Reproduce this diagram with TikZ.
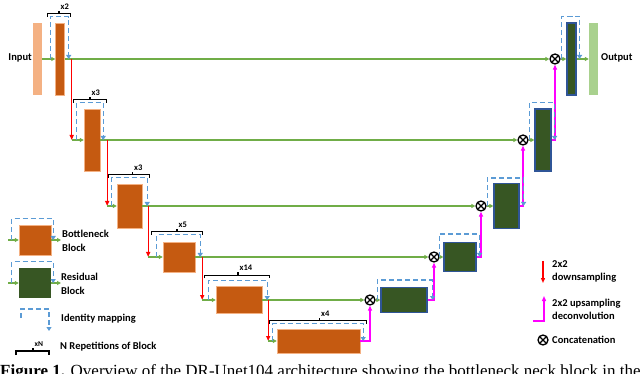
\documentclass[tikz,border=0pt]{standalone}
\usepackage{fontspec}
\setmainfont{Carlito}
\newfontfamily\capfont{Liberation Serif}
\usepackage{tikz}
\usetikzlibrary{arrows.meta,positioning,calc}
\definecolor{encorange}{HTML}{C55A11}
\definecolor{inpeach}{HTML}{F4B183}
\definecolor{outgreen}{HTML}{A9D18E}
\definecolor{resgreen}{HTML}{375623}
\definecolor{resborder}{HTML}{2F5597}
\definecolor{linegreen}{HTML}{70AD47}
\definecolor{skipblue}{HTML}{5B9BD5}
\definecolor{downred}{HTML}{FF0000}
\definecolor{upmagenta}{HTML}{FF00FF}

\begin{document}
\begin{tikzpicture}[
    x=1pt, y=-1pt,
    font=\fontsize{10.5}{13.5}\selectfont\bfseries,
    encblock/.style={rectangle, fill=encorange, draw=inpeach, line width=0.4pt, inner sep=0pt},
    decblock/.style={rectangle, fill=resgreen, draw=resborder, line width=1.2pt, inner sep=0pt},
    bar/.style={rectangle, inner sep=0pt, minimum width=9pt, minimum height=72pt},
    concat/.style={circle, draw=black, fill=white, line width=1.3pt, minimum size=10pt, inner sep=0pt,
        path picture={\draw[line width=1.3pt]
            (path picture bounding box.north west) -- (path picture bounding box.south east)
            (path picture bounding box.north east) -- (path picture bounding box.south west);}},
    main/.style={-{Triangle[length=4pt,width=4pt]}, line width=1.1pt, color=linegreen},
    down/.style={-{Triangle[length=5pt,width=4pt]}, line width=1.3pt, color=downred},
    up/.style={-{Triangle[length=5pt,width=4pt]}, line width=1.6pt, color=upmagenta},
    skip/.style={-{Triangle[length=4pt,width=5pt]}, line width=1.3pt, color=skipblue,
        dash pattern=on 5pt off 3pt},
    brace/.style={line width=1.2pt, color=black},
    reptext/.style={font=\fontsize{8.5}{9}\selectfont\bfseries, inner sep=1pt},
    legtext/.style={align=left, inner sep=0pt},
]
\useasboundingbox (0,0) rectangle (640,374);
\clip (0,0) rectangle (640,374);

% Ein- und Ausgang
\node[bar, fill=inpeach] (in) at (37.5,59) {};
\node[anchor=east, inner sep=1pt] (intext) at (33,58) {Input};
\node[bar, fill=outgreen] (out) at (593.5,59) {};
\node[anchor=west, inner sep=1pt] (outtext) at (600,58) {Output};

% Encoder
\node[encblock, minimum width=9pt, minimum height=72pt] (e1) at (60,59) {};
\node[encblock, minimum width=16pt, minimum height=62pt] (e2) at (92,140) {};
\node[encblock, minimum width=25pt, minimum height=44pt] (e3) at (129.5,206) {};
\node[encblock, minimum width=32pt, minimum height=30pt] (e4) at (179,257) {};
\node[encblock, minimum width=46pt, minimum height=27pt] (e5) at (239,300) {};
\node[encblock, minimum width=83pt, minimum height=24pt] (e6) at (318.5,341) {};

% Decoder
\node[decblock, minimum width=46pt, minimum height=25pt] (d5) at (404,300) {};
\node[decblock, minimum width=32pt, minimum height=29pt] (d4) at (460,257) {};
\node[decblock, minimum width=25pt, minimum height=45pt] (d3) at (506.5,206) {};
\node[decblock, minimum width=16pt, minimum height=62pt] (d2) at (543,140) {};
\node[decblock, minimum width=9pt, minimum height=72pt] (d1) at (571.5,59) {};

% Konkatenation
\node[concat] (c1) at (555,59) {};
\node[concat] (c2) at (523,140) {};
\node[concat] (c3) at (481,206) {};
\node[concat] (c4) at (434,257) {};
\node[concat] (c5) at (370,300) {};

% Skip-Verbindungen
\draw[main] (in.east) -- (e1.west);
\draw[main] (e1.east) -- (c1.west);
\draw[main] (e2.east) -- (c2.west);
\draw[main] (e3.east) -- (c3.west);
\draw[main] (e4.east) -- (c4.west);
\draw[main] (e5.east) -- (c5.west);
\draw[main] (c1.east) -- (d1.west);
\draw[main] (c2.east) -- (d2.west);
\draw[main] (c3.east) -- (d3.west);
\draw[main] (c4.east) -- (d4.west);
\draw[main] (c5.east) -- (d5.west);
\draw[main] (d1.east) -- (out.west);

% Downsampling
\coordinate (s1) at ($(e1.east)+(7,0)$);
\coordinate (s2) at ($(e2.east)+(7,0)$);
\coordinate (s3) at ($(e3.east)+(6,0)$);
\coordinate (s4) at ($(e4.east)+(7,0)$);
\coordinate (s5) at ($(e5.east)+(6,0)$);
\draw[down] (s1) -- (s1 |- e2.west);
\draw[main] (s1 |- e2.west) -- (e2.west);
\draw[down] (s2) -- (s2 |- e3.west);
\draw[main] (s2 |- e3.west) -- (e3.west);
\draw[down] (s3) -- (s3 |- e4.west);
\draw[main] (s3 |- e4.west) -- (e4.west);
\draw[down] (s4) -- (s4 |- e5.west);
\draw[main] (s4 |- e5.west) -- (e5.west);
\draw[down] (s5) -- (s5 |- e6.west);
\draw[main] (s5 |- e6.west) -- (e6.west);

% Upsampling
\draw[up] (e6.east) -| (c5.south);
\draw[up] (d5.east) -| (c4.south);
\draw[up] (d4.east) -| (c3.south);
\draw[up] (d3.east) -| (c2.south);
\draw[up] (d2.east) -| (c1.south);

% Identity mapping
\draw[skip] ([xshift=-5pt]e1.west) |- ([yshift=6pt]e1.north) -| ([xshift=4pt]e1.east);
\draw[skip] ([xshift=-7pt]e2.west) |- ([yshift=6pt]e2.north) -| ([xshift=3pt]e2.east);
\draw[skip] ([xshift=-5pt]e3.west) |- ([yshift=6pt]e3.north) -| ([xshift=5pt]e3.east);
\draw[skip] ([xshift=-6pt]e4.west) |- ([yshift=7pt]e4.north) -| ([xshift=5pt]e4.east);
\draw[skip] ([xshift=-7pt]e5.west) |- ([yshift=6pt]e5.north) -| ([xshift=5pt]e5.east);
\draw[skip] ([xshift=-4pt]e6.west) |- ([yshift=5pt]e6.north) -| ([xshift=3pt]e6.east);
\draw[skip] ([xshift=-3pt]d5.west) |- ([yshift=7pt]d5.north) -| ([xshift=5pt]d5.east);
\draw[skip] ([xshift=-4pt]d4.west) |- ([yshift=8pt]d4.north) -| ([xshift=3pt]d4.east);
\draw[skip] ([xshift=-6pt]d3.west) |- ([yshift=5pt]d3.north) -| ([xshift=4pt]d3.east);
\draw[skip] ([xshift=-5pt]d2.west) |- ([yshift=6pt]d2.north) -| ([xshift=3pt]d2.east);
\draw[skip] ([xshift=-5pt]d1.west) |- ([yshift=6pt]d1.north) -| ([xshift=3pt]d1.east);

% Wiederholungen
\draw[brace] ([xshift=-8pt,yshift=6pt]e1.north west) |- ([xshift=-1pt,yshift=9pt]e1.north) -| ([xshift=6pt,yshift=6pt]e1.north east);
\draw[brace] ([xshift=-1pt,yshift=9pt]e1.north) -- ([xshift=-1pt,yshift=12pt]e1.north) node[reptext, anchor=south west] (r1) {x2};
\draw[brace] ([xshift=-10pt,yshift=6pt]e2.north west) |- ([xshift=-2pt,yshift=9pt]e2.north) -| ([xshift=6pt,yshift=6pt]e2.north east);
\draw[brace] ([xshift=-2pt,yshift=9pt]e2.north) -- ([xshift=-2pt,yshift=12pt]e2.north) node[reptext, anchor=south west] (r2) {x3};
\draw[brace] ([xshift=-8pt,yshift=6pt]e3.north west) |- ([xshift=3pt,yshift=9pt]e3.north) -| ([xshift=7pt,yshift=6pt]e3.north east);
\draw[brace] ([xshift=3pt,yshift=9pt]e3.north) -- ([xshift=3pt,yshift=12pt]e3.north) node[reptext, anchor=south west] (r3) {x3};
\draw[brace] ([xshift=-11pt,yshift=7pt]e4.north west) |- ([xshift=-2pt,yshift=10pt]e4.north) -| ([xshift=7pt,yshift=7pt]e4.north east);
\draw[brace] ([xshift=-2pt,yshift=10pt]e4.north) -- ([xshift=-2pt,yshift=13pt]e4.north) node[reptext, anchor=south west] (r4) {x5};
\draw[brace] ([xshift=-11pt,yshift=8pt]e5.north west) |- ([xshift=-1pt,yshift=11pt]e5.north) -| ([xshift=7pt,yshift=8pt]e5.north east);
\draw[brace] ([xshift=-1pt,yshift=11pt]e5.north) -- ([xshift=-1pt,yshift=14pt]e5.north) node[reptext, anchor=south west] (r5) {x14};
\draw[brace] ([xshift=-7pt,yshift=5pt]e6.north west) |- ([xshift=1pt,yshift=8pt]e6.north) -| ([xshift=6pt,yshift=5pt]e6.north east);
\draw[brace] ([xshift=1pt,yshift=8pt]e6.north) -- ([xshift=1pt,yshift=11pt]e6.north) node[reptext, anchor=south west] (r6) {x4};

% Legende links
\node[encblock, minimum width=32pt, minimum height=30pt] (lb) at (35,240) {};
\coordinate (lbin) at (8,240);
\coordinate (lbout) at (61,240);
\draw[main] (lbin) -- (lb.west);
\draw[main] (lb.east) -- (lbout);
\draw[skip] ([xshift=-7pt]lb.west) |- ([yshift=6pt]lb.north) -| ([xshift=2pt]lb.east);
\node[legtext, anchor=west] (lbtext) at (62,241) {Bottleneck\\Block};

\node[rectangle, fill=resgreen, inner sep=0pt, minimum width=32pt, minimum height=30pt] (lr) at (35,283) {};
\coordinate (lrin) at (8,283);
\coordinate (lrout) at (61,283);
\draw[main] (lrin) -- (lr.west);
\draw[main] (lr.east) -- (lrout);
\draw[skip] ([xshift=-7pt]lr.west) |- ([yshift=6pt]lr.north) -| ([xshift=2pt]lr.east);
\node[legtext, anchor=west] (lrtext) at (61,284) {Residual\\Block};

\coordinate (im1) at (21,318);
\coordinate (im2) at (35,309);
\coordinate (im3) at (49,331);
\draw[skip] (im1) |- (im2) -| (im3);
\node[legtext, anchor=west] (imtext) at (61,319) {Identity mapping};

\coordinate (nr1) at (16,355);
\coordinate (nr2) at (33,351);
\coordinate (nr3) at (49,355);
\draw[brace] (nr1) |- (nr2) -| (nr3);
\draw[brace] (nr2) -- ++(0,-3) node[reptext, anchor=south west, font=\fontsize{7.5}{8}\selectfont\bfseries] (nrlabel) {xN};
\node[legtext, anchor=west] (nrtext) at (60,347) {N Repetitions of Block};

% Legende rechts
\coordinate (dn1) at (543,261);
\coordinate (dn2) at (543,283);
\draw[down] (dn1) -- (dn2);
\node[legtext, anchor=west] (dntext) at (552,271.5) {2x2\\downsampling};

\coordinate (up1) at (533,321);
\coordinate (up2) at (544,296);
\draw[up] (up1) -| (up2);
\node[legtext, anchor=west] (uptext) at (552,309.5) {2x2 upsampling\\deconvolution};

\node[concat] (lc) at (543,340) {};
\node[legtext, anchor=west] (lctext) at (552,340) {Concatenation};

% Bildunterschrift (abgeschnitten)
\node[anchor=base west, inner sep=0pt, font=\capfont\fontsize{17}{20}\selectfont] (cap) at (0,376)
    {\textbf{Figure 1.} Overview of the DR-Unet104 architecture showing the bottleneck neck block in the};
\end{tikzpicture}
\end{document}
